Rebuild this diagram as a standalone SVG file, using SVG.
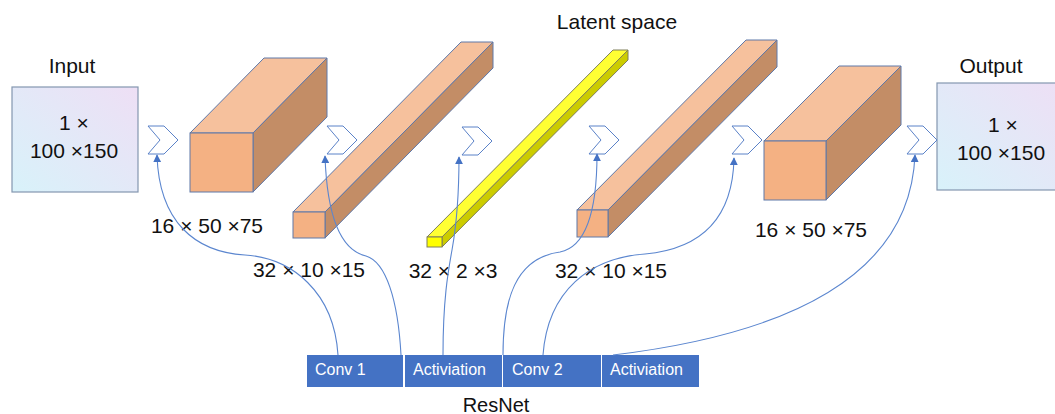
<svg xmlns="http://www.w3.org/2000/svg" width="1055" height="414" viewBox="0 0 1055 414">
<style>
text{font-family:"Liberation Sans",Arial,sans-serif;fill:#111}
.lbl{font-size:21px;text-anchor:middle}
.bt{font-size:16px;fill:#fff}
.io{fill:url(#g);stroke:#8497b0;stroke-width:1.2}
.fr{fill:#f4b183;stroke:#5f78a8;stroke-width:1}
.tp{fill:#f6c19d;stroke:#5f78a8;stroke-width:1}
.sd{fill:#c38d66;stroke:#5f78a8;stroke-width:1}
.yf{fill:#ffff00;stroke:#7f7f5a;stroke-width:1}
.yt{fill:#ffff33;stroke:#7f7f5a;stroke-width:1}
.ys{fill:#cccc00;stroke:#7f7f5a;stroke-width:1}
.ch{fill:#fff;stroke:#5b82c8;stroke-width:1}
.cn{fill:none;stroke:#5b86cf;stroke-width:1.1;marker-end:url(#ah)}
.rb{fill:#4472c4}
</style>
<defs>
<linearGradient id="g" x1="0" y1="1" x2="1" y2="0">
<stop offset="0" stop-color="#d8f2fa"/>
<stop offset="1" stop-color="#eedff5"/>
</linearGradient>
<path id="chev" d="M0,0 L16,0 L30,14 L16,28 L0,28 L12,14 Z"/>
<marker id="ah" viewBox="0 0 10 10" refX="9" refY="5" markerWidth="8" markerHeight="8" markerUnits="userSpaceOnUse" orient="auto">
<path d="M0,0 L10,5 L0,10 Z" fill="#4472c4"/>
</marker>
</defs>

<g id="input">
<text class="lbl" x="72" y="73">Input</text>
<rect class="io" x="12" y="87" width="126" height="105"/>
<text class="lbl" x="74" y="130">1 ×</text>
<text class="lbl" x="74" y="158">100 ×150</text>
</g>

<g id="output">
<text class="lbl" x="991" y="73">Output</text>
<rect class="io" x="937" y="83" width="128" height="107"/>
<text class="lbl" x="1003" y="132">1 ×</text>
<text class="lbl" x="1001" y="160">100 ×150</text>
</g>

<g id="chevrons">
<use href="#chev" class="ch" x="148" y="126"/>
<use href="#chev" class="ch" x="327" y="126"/>
<use href="#chev" class="ch" x="462" y="127"/>
<use href="#chev" class="ch" x="589" y="126"/>
<use href="#chev" class="ch" x="732" y="126"/>
<use href="#chev" class="ch" x="907" y="126"/>
</g>

<g id="enc1">
<polygon class="tp" points="190,133 264,58 327,58 253,133"/>
<polygon class="sd" points="253,133 327,58 327,117 253,192"/>
<rect class="fr" x="190" y="133" width="63" height="59"/>
<text class="lbl" x="207" y="233">16 × 50 ×75</text>
</g>

<g id="enc2">
<polygon class="tp" points="293,212 461,42 493,42 325,212"/>
<polygon class="sd" points="325,212 493,42 493,68 325,238"/>
<rect class="fr" x="293" y="212" width="32" height="26"/>
<text class="lbl" x="309" y="277">32 × 10 ×15</text>
</g>

<g id="latent">
<text class="lbl" x="617" y="29">Latent space</text>
<polygon class="yt" points="427,237 613,50 628,50 442,237"/>
<polygon class="ys" points="442,237 628,50 628,60 442,247"/>
<rect class="yf" x="427" y="237" width="15" height="10"/>
<text class="lbl" x="453" y="278">32 × 2 ×3</text>
</g>

<g id="dec1">
<polygon class="tp" points="577,210 746,40 777,40 608,210"/>
<polygon class="sd" points="608,210 777,40 777,67 608,237"/>
<rect class="fr" x="577" y="210" width="31" height="27"/>
<text class="lbl" x="611" y="278">32 × 10 ×15</text>
</g>

<g id="dec2">
<polygon class="tp" points="764,141 839,66 901,66 826,141"/>
<polygon class="sd" points="826,141 901,66 901,125 826,200"/>
<rect class="fr" x="764" y="141" width="62" height="59"/>
<text class="lbl" x="811" y="237">16 × 50 ×75</text>
</g>

<g id="resnet">
<rect class="rb" x="307" y="355" width="96" height="32"/>
<rect class="rb" x="405" y="355" width="97" height="32"/>
<rect class="rb" x="503" y="355" width="98" height="32"/>
<rect class="rb" x="602" y="355" width="97" height="32"/>
<text class="bt" x="315" y="375">Conv 1</text>
<text class="bt" x="413" y="375">Activiation</text>
<text class="bt" x="512" y="375">Conv 2</text>
<text class="bt" x="610" y="375">Activiation</text>
<text class="lbl" x="496" y="412" style="font-size:20px">ResNet</text>
</g>

<g id="connectors">
<path class="cn" d="M338,355 C334,292 292,258 245,255 C195,252 159,222 157,155"/>
<path class="cn" d="M401,355 C398,300 386,262 366,256 C340,250 327,215 325,156"/>
<path class="cn" d="M443,355 C443,300 448,272 452,250 C457,222 459,190 459,157"/>
<path class="cn" d="M503,355 C503,300 515,258 560,252 C590,246 597,200 597,154"/>
<path class="cn" d="M543,355 C548,290 590,258 645,254 C710,248 733,210 734,158"/>
<path class="cn" d="M613,355 C780,335 910,280 915,155"/>
</g>
</svg>
